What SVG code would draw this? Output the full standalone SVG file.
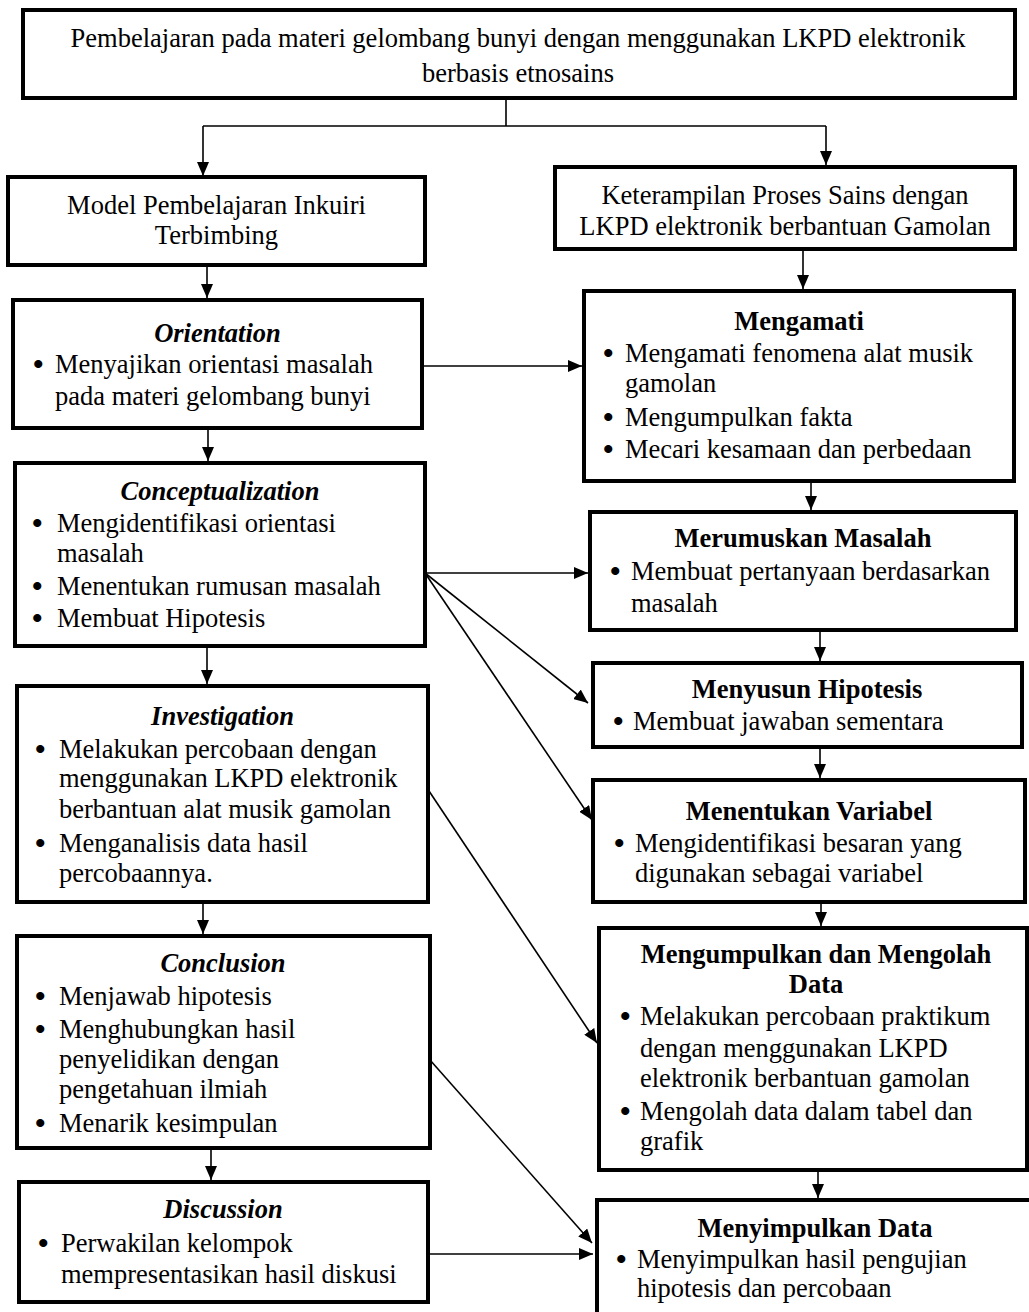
<svg xmlns="http://www.w3.org/2000/svg" width="1029" height="1312" viewBox="0 0 1029 1312">
<style>
text{font-family:"Liberation Serif","Times New Roman",serif;font-size:26.5px;fill:#000}
.c{text-anchor:middle}
.ti{font-weight:bold;font-style:italic;text-anchor:middle}
.tb{font-weight:bold;text-anchor:middle}
.bu{font-size:30px;font-weight:bold}
.box{fill:#fff;stroke:#000;stroke-width:4}
.ln{fill:none;stroke:#000;stroke-width:1.6}
</style>
<defs>
<marker id="ah" viewBox="0 0 14 12" refX="14" refY="6" markerWidth="14" markerHeight="12" markerUnits="userSpaceOnUse" orient="auto"><path d="M0,0 L14,6 L0,12 z" fill="#000"/></marker>
</defs>
<rect width="1029" height="1312" fill="#fff"/>

<g id="connectors">
<path class="ln" d="M506,98 V126 M203,126 H826"/>
<path class="ln" d="M203,126 V176" marker-end="url(#ah)"/>
<path class="ln" d="M826,126 V165" marker-end="url(#ah)"/>
<path class="ln" d="M207,265 V298" marker-end="url(#ah)"/>
<path class="ln" d="M208,428 V461" marker-end="url(#ah)"/>
<path class="ln" d="M207,646 V684" marker-end="url(#ah)"/>
<path class="ln" d="M203,902 V934" marker-end="url(#ah)"/>
<path class="ln" d="M211,1148 V1180" marker-end="url(#ah)"/>
<path class="ln" d="M803,249 V289" marker-end="url(#ah)"/>
<path class="ln" d="M811,481 V510" marker-end="url(#ah)"/>
<path class="ln" d="M820,630 V661" marker-end="url(#ah)"/>
<path class="ln" d="M820,747 V778" marker-end="url(#ah)"/>
<path class="ln" d="M821,900 V926" marker-end="url(#ah)"/>
<path class="ln" d="M818,1166 V1198" marker-end="url(#ah)"/>
<path class="ln" d="M416,366 H582" marker-end="url(#ah)"/>
<path class="ln" d="M425,573 H588" marker-end="url(#ah)"/>
<path class="ln" d="M425,573 L588,703" marker-end="url(#ah)"/>
<path class="ln" d="M425,573 L592,820" marker-end="url(#ah)"/>
<path class="ln" d="M423,782 L597,1043" marker-end="url(#ah)"/>
<path class="ln" d="M430,1060 L592,1243" marker-end="url(#ah)"/>
<path class="ln" d="M428,1254 H593" marker-end="url(#ah)"/>
</g>

<g id="top">
<rect class="box" x="23" y="10" width="992" height="88"/>
<text class="c" x="518" y="47">Pembelajaran pada materi gelombang bunyi dengan menggunakan LKPD elektronik</text>
<text class="c" x="518" y="82">berbasis etnosains</text>
</g>

<g id="model">
<rect class="box" x="8" y="177" width="417" height="88"/>
<text class="c" x="216.5" y="214">Model Pembelajaran Inkuiri</text>
<text class="c" x="216.5" y="244">Terbimbing</text>
</g>

<g id="orientation">
<rect class="box" x="13" y="300" width="409" height="128"/>
<text class="ti" x="217.5" y="342">Orientation</text>
<text class="bu" x="33" y="374">•</text>
<text x="55" y="373">Menyajikan orientasi masalah</text>
<text x="55" y="405">pada materi gelombang bunyi</text>
</g>

<g id="conceptualization">
<rect class="box" x="15" y="463" width="410" height="183"/>
<text class="ti" x="220" y="500">Conceptualization</text>
<text class="bu" x="32" y="533">•</text>
<text x="57" y="532">Mengidentifikasi orientasi</text>
<text x="57" y="562">masalah</text>
<text class="bu" x="32" y="596">•</text>
<text x="57" y="595">Menentukan rumusan masalah</text>
<text class="bu" x="32" y="628">•</text>
<text x="57" y="627">Membuat Hipotesis</text>
</g>

<g id="investigation">
<rect class="box" x="17" y="686" width="411" height="216"/>
<text class="ti" x="222.5" y="725">Investigation</text>
<text class="bu" x="35" y="759">•</text>
<text x="59" y="758">Melakukan percobaan dengan</text>
<text x="59" y="787">menggunakan LKPD elektronik</text>
<text x="59" y="818">berbantuan alat musik gamolan</text>
<text class="bu" x="35" y="853">•</text>
<text x="59" y="852">Menganalisis data hasil</text>
<text x="59" y="882">percobaannya.</text>
</g>

<g id="conclusion">
<rect class="box" x="17" y="936" width="413" height="212"/>
<text class="ti" x="223" y="972">Conclusion</text>
<text class="bu" x="35" y="1006">•</text>
<text x="59" y="1005">Menjawab hipotesis</text>
<text class="bu" x="35" y="1039">•</text>
<text x="59" y="1038">Menghubungkan hasil</text>
<text x="59" y="1068">penyelidikan dengan</text>
<text x="59" y="1098">pengetahuan ilmiah</text>
<text class="bu" x="35" y="1133">•</text>
<text x="59" y="1132">Menarik kesimpulan</text>
</g>

<g id="discussion">
<rect class="box" x="19" y="1182" width="409" height="120"/>
<text class="ti" x="223" y="1218">Discussion</text>
<text class="bu" x="38" y="1253">•</text>
<text x="61" y="1252">Perwakilan kelompok</text>
<text x="61" y="1283">mempresentasikan hasil diskusi</text>
</g>

<g id="keterampilan">
<rect class="box" x="555" y="167" width="460" height="82"/>
<text class="c" x="785" y="204">Keterampilan Proses Sains dengan</text>
<text class="c" x="785" y="235">LKPD elektronik berbantuan Gamolan</text>
</g>

<g id="mengamati">
<rect class="box" x="584" y="291" width="430" height="190"/>
<text class="tb" x="799" y="330">Mengamati</text>
<text class="bu" x="603" y="363">•</text>
<text x="625" y="362">Mengamati fenomena alat musik</text>
<text x="625" y="392">gamolan</text>
<text class="bu" x="603" y="427">•</text>
<text x="625" y="426">Mengumpulkan fakta</text>
<text class="bu" x="603" y="459">•</text>
<text x="625" y="458">Mecari kesamaan dan perbedaan</text>
</g>

<g id="merumuskan">
<rect class="box" x="590" y="512" width="426" height="118"/>
<text class="tb" x="803" y="547">Merumuskan Masalah</text>
<text class="bu" x="610" y="581">•</text>
<text x="631" y="580">Membuat pertanyaan berdasarkan</text>
<text x="631" y="612">masalah</text>
</g>

<g id="menyusun">
<rect class="box" x="593" y="663" width="429" height="84"/>
<text class="tb" x="807" y="698">Menyusun Hipotesis</text>
<text class="bu" x="613" y="731">•</text>
<text x="633" y="730">Membuat jawaban sementara</text>
</g>

<g id="menentukan">
<rect class="box" x="593" y="780" width="432" height="122"/>
<text class="tb" x="809" y="820">Menentukan Variabel</text>
<text class="bu" x="614" y="853">•</text>
<text x="635" y="852">Mengidentifikasi besaran yang</text>
<text x="635" y="882">digunakan sebagai variabel</text>
</g>

<g id="mengumpulkan">
<rect class="box" x="599" y="928" width="428" height="242"/>
<text class="tb" x="816" y="963">Mengumpulkan dan Mengolah</text>
<text class="tb" x="816" y="993">Data</text>
<text class="bu" x="620" y="1026">•</text>
<text x="640" y="1025">Melakukan percobaan praktikum</text>
<text x="640" y="1057">dengan menggunakan LKPD</text>
<text x="640" y="1087">elektronik berbantuan gamolan</text>
<text class="bu" x="620" y="1121">•</text>
<text x="640" y="1120">Mengolah data dalam tabel dan</text>
<text x="640" y="1150">grafik</text>
</g>

<g id="menyimpulkan">
<rect class="box" x="597" y="1200" width="440" height="120"/>
<text class="tb" x="815" y="1237">Menyimpulkan Data</text>
<text class="bu" x="616" y="1269">•</text>
<text x="637" y="1268">Menyimpulkan hasil pengujian</text>
<text x="637" y="1297">hipotesis dan percobaan</text>
</g>
</svg>
